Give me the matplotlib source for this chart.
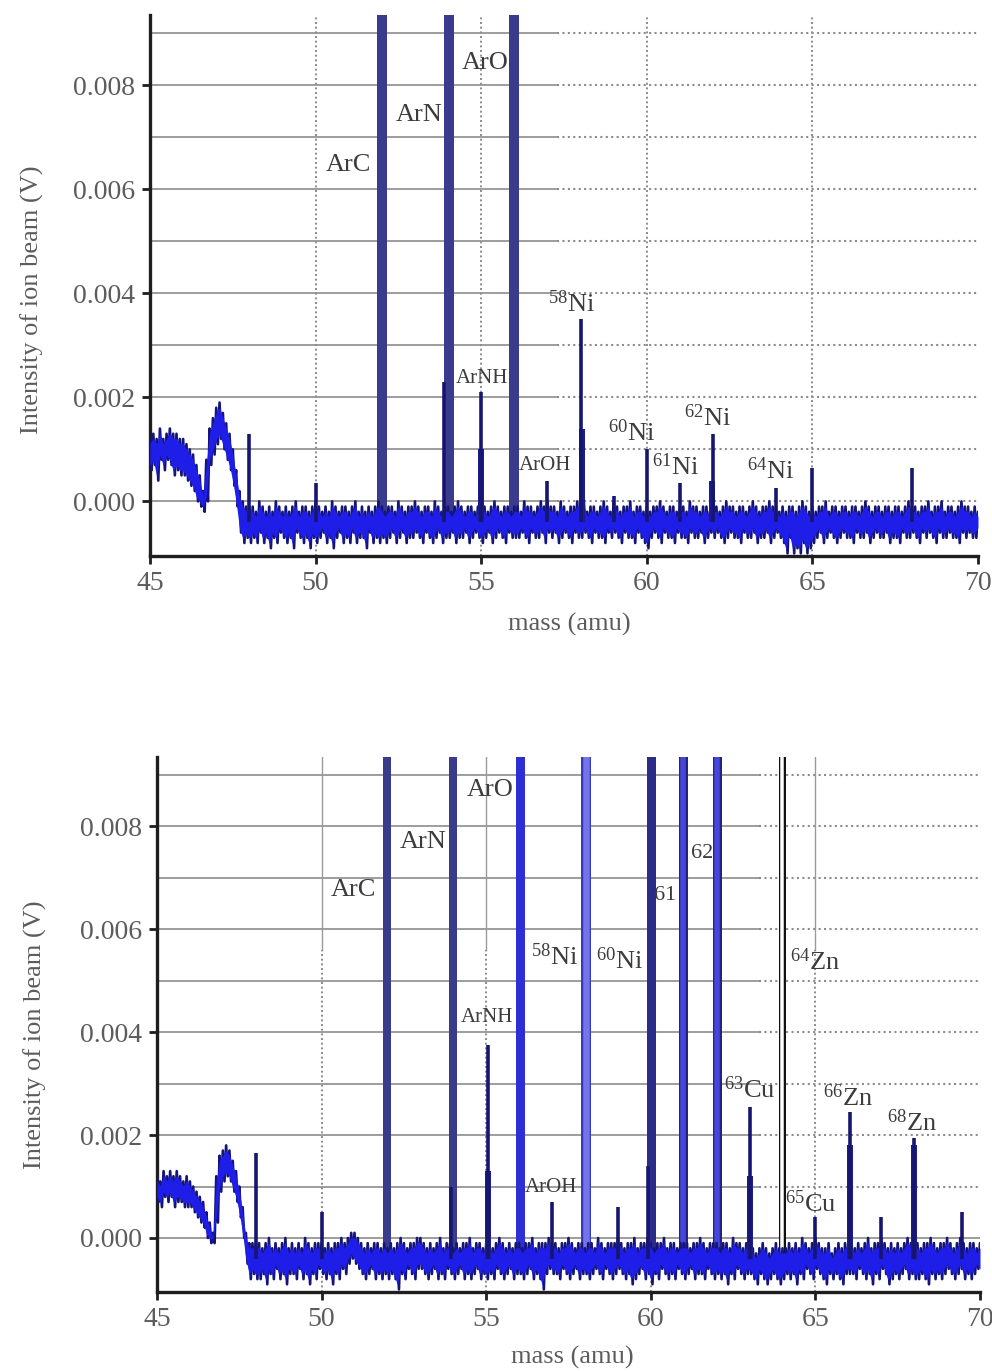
import numpy as np
import matplotlib
matplotlib.use("Agg")
import matplotlib.pyplot as plt

plt.rcParams["font.family"] = ["Liberation Serif", "DejaVu Serif"]
plt.rcParams["mathtext.fontset"] = "custom"
plt.rcParams["mathtext.rm"] = "Liberation Serif"
plt.rcParams["mathtext.it"] = "Liberation Serif:italic"

# sample positions of the recorded trace (amu)
mass_grid = np.round(np.arange(45.0, 70.05, 0.1), 1)

# noise band envelopes, units of 1e-4 V (upper / lower edge of the trace)
top_hi = [12, 13, 12, 14, 12, 13, 14, 13, 13, 12, 12, 11, 10, 9, 7, 5, 2, 8, 14, 16,
          18, 19, 17, 15, 13, 10, 6, 2, 0, -1, -1,
          -1, -2, 0, -1, -2, -1, -2, 0, -1, -2,
          -1, -2, -1, 0, -2, -1, -1, -2, -1, 0,
          -1, -2, -1, -2, 0, -1, -2, -1, -1, -2,
          -1, 0, -2, -1, -2, -1, -2, -1, 0, -1,
          -2, -1, -1, -2, 0, -1, -2, -1, -1, 0,
          -1, -2, -1, -1, -2, 0, -1, -2, -1, -1,
          -2, -1, 0, -1, -2, -1, -1, -2, -1, -1,
          -1, -2, -1, 0, -1, -2, -1, -1, -2, -1,
          -1, -2, 0, -1, -1, -2, -1, 0, -1, 0,
          -1, -1, -2, 0, -1, -2, -1, -1, 0, -1,
          0, -2, -1, -1, -2, -1, 0, -1, -2, 0,
          -1, -2, -1, -1, 0, -2, -1, -1, -2, -1,
          -2, -1, -1, 0, -1, -2, -1, -1, -2, -1,
          -1, -2, 0, -1, -1, -2, -1, -1, -2, -1,
          -1, -2, -1, 0, -1, -1, -2, -1, -1, -2,
          -1, 0, -1, -2, -1, -1, 0, -1, -1, -2,
          -1, -2, -1, -1, -2, -1, 0, -1, -2, -1,
          -2, -1, -1, 0, -2, -1, -1, -2, -1, -1,
          -2, -1, -1, -2, -1, 0, -1, -2, -1, -1,
          -2, -1, -1, -2, -1, -1, -2, -1, 0, -1,
          -1, -2, -1, -1, 0, -2, -1, -1, 0, -2,
          -1, -1, -2, -1, 0, -1, -1, -2, -1, -2]
top_lo = [6, 7, 4, 8, 6, 8, 7, 5, 6, 5, 5, 4, 3, 2, 0, -1, -2, 0, 7, 9,
          11, 12, 10, 8, 6, 3, -1, -6, -8, -7, -8,
          -7, -8, -6, -8, -7, -9, -7, -8, -6, -7,
          -8, -7, -9, -6, -7, -8, -7, -9, -7, -8,
          -7, -6, -8, -7, -9, -7, -6, -8, -7, -8,
          -6, -8, -7, -7, -9, -6, -8, -7, -8, -7,
          -8, -7, -6, -8, -7, -6, -8, -7, -7, -6,
          -7, -8, -6, -7, -8, -7, -6, -8, -7, -7,
          -6, -8, -7, -7, -6, -8, -7, -6, -7, -8,
          -7, -6, -8, -7, -6, -7, -8, -6, -7, -7,
          -7, -6, -7, -8, -6, -7, -7, -6, -8, -6,
          -7, -6, -8, -7, -6, -7, -8, -6, -7, -7,
          -6, -7, -8, -6, -7, -7, -8, -6, -7, -6,
          -7, -8, -6, -7, -7, -8, -6, -7, -8, -9,
          -7, -6, -7, -8, -6, -7, -7, -8, -6, -7,
          -7, -8, -6, -7, -7, -6, -8, -7, -6, -7,
          -6, -7, -8, -7, -6, -7, -7, -8, -6, -7,
          -7, -6, -8, -7, -7, -6, -8, -7, -6, -7,
          -8, -10, -7, -10, -9, -10, -8, -10, -9, -8,
          -7, -6, -8, -7, -6, -7, -8, -7, -6, -7,
          -7, -8, -6, -7, -7, -6, -8, -7, -6, -7,
          -7, -6, -8, -7, -7, -8, -6, -7, -7, -6,
          -7, -8, -6, -7, -6, -7, -8, -6, -7, -7,
          -6, -7, -7, -8, -6, -7, -6, -7, -7, -6]

bot_hi = [12, 11, 13, 12, 13, 12, 13, 12, 11, 12, 11, 10, 9, 8, 7, 5, 3, 1, 12, 16,
          17, 18, 17, 15, 13, 10, 6, 1, -1, -1, -1,
          -1, -2, -1, 0, -2, -1, -2, -1, 0, -2,
          -1, -2, -1, -2, 0, -1, -2, -1, -1, -1,
          -2, -1, -2, -1, -1, 0, -1, 0, 1, 1,
          0, -1, -2, -1, -2, -1, -1, -2, -1, -2,
          -1, -2, -1, 0, -1, -2, -1, -1, 0, 0,
          -1, -2, -1, -2, -1, 0, -2, -1, -1, -2,
          -1, -2, -1, -1, 0, -2, -1, -1, -2, -1,
          -1, -2, -1, 0, -1, -2, -1, -2, -1, -1,
          -2, -1, -1, 0, -2, -1, -1, -1, 0, -1,
          -1, -2, -1, -1, 0, -1, -2, -1, -1, -2,
          -1, -1, -2, 0, -1, -2, -1, -1, -1, 0,
          -1, -2, -1, -1, 0, -2, -1, -1, 0, -1,
          -2, -1, -1, 0, -2, -1, -1, -2, -1, -1,
          -1, -2, -1, -1, 0, -1, -2, -1, -1, -1,
          -2, -1, -1, -2, 0, -1, -1, -2, -1, -1,
          -2, -3, -2, -1, -2, -3, -2, -1, -2, -2,
          -2, -1, -2, -1, -2, 0, -1, -2, -1, 0,
          -1, -2, -2, -1, -3, -2, -1, -2, -1, -1,
          -1, -2, -1, -2, -1, 0, -2, -1, -1, 0,
          -1, -2, -1, -2, -1, -2, -1, 0, -1, -1,
          -1, -2, -1, -1, 0, -1, -2, -1, -1, 0,
          -1, -2, -1, 0, -1, -2, -1, -1, -2, -1]
bot_lo = [7, 6, 8, 7, 8, 6, 7, 7, 6, 6, 6, 5, 4, 3, 2, 0, -1, -1, 3, 9,
          11, 12, 11, 9, 7, 4, 0, -5, -8, -7, -8,
          -8, -7, -9, -7, -8, -6, -8, -7, -9, -7,
          -7, -8, -6, -8, -7, -9, -7, -8, -6, -7,
          -8, -7, -9, -7, -8, -6, -7, -5, -4, -5,
          -6, -7, -8, -7, -6, -8, -7, -8, -7, -8,
          -7, -8, -10, -7, -8, -6, -7, -8, -6, -6,
          -7, -8, -7, -6, -8, -7, -8, -6, -7, -8,
          -7, -6, -8, -7, -8, -7, -6, -8, -7, -8,
          -7, -8, -6, -7, -8, -7, -6, -8, -7, -7,
          -8, -7, -6, -8, -7, -8, -10, -7, -6, -7,
          -7, -8, -6, -7, -8, -7, -6, -8, -7, -7,
          -8, -7, -6, -7, -8, -6, -7, -8, -7, -6,
          -7, -8, -7, -9, -8, -7, -6, -8, -7, -9,
          -7, -8, -6, -7, -8, -7, -8, -6, -7, -8,
          -7, -6, -8, -7, -7, -8, -6, -7, -8, -7,
          -8, -7, -9, -7, -8, -6, -7, -8, -7, -7,
          -8, -9, -7, -8, -9, -8, -7, -8, -9, -8,
          -7, -8, -7, -9, -7, -8, -6, -7, -8, -6,
          -7, -8, -9, -7, -8, -7, -8, -9, -7, -7,
          -7, -8, -6, -7, -8, -7, -9, -7, -8, -6,
          -7, -9, -8, -7, -8, -7, -6, -8, -7, -8,
          -8, -7, -8, -9, -7, -8, -7, -8, -7, -6,
          -7, -8, -7, -6, -8, -7, -8, -7, -6, -7]

# narrow peaks (mass, height in 1e-4 V)
top_peak_mass = [48.0, 50.0, 53.88, 55.0, 57.0, 58.0, 59.0, 60.0, 61.0, 62.0, 63.9, 65.0, 68.0]
top_peak_height = [13, 3.5, 23, 21, 4, 35, 1, 10, 3.5, 13, 2.5, 6.5, 6.5]
top_shoulder_mass = [55.0, 58.03, 61.97]
top_shoulder_height = [10, 14, 4]

bot_peak_mass = [48.0, 50.0, 53.93, 55.05, 57.0, 59.0, 59.93, 63.0, 65.0, 66.05, 67.0, 68.0, 69.45]
bot_peak_height = [16.5, 5, 10, 37.5, 7, 6, 14, 25.5, 4, 24.5, 4, 19.5, 5]
bot_shoulder_mass = [55.05, 63.0, 66.05, 68.0]
bot_shoulder_height = [13, 12, 18, 18]

# saturated peaks: mass, outer colour, inner colour, width in px
top_bar_mass = [52.0, 54.02, 55.98]
top_bar_color = ["#3b3b8e", "#3b3b8e", "#3b3b8e"]
top_bar_inner = [None, None, None]
top_bar_width = [10, 10, 10]

bot_bar_mass = [52.0, 54.0, 56.03, 58.03, 60.0, 60.97, 62.0, 64.0]
bot_bar_color = ["#3b3b8e", "#3b3b8e", "#2e2ed6", "#3a3ab8", "#2b2b88", "#24247a", "#24247a", "#111111"]
bot_bar_inner = [None, None, None, "#7474ec", None, "#4646dc", "#4646dc", "#ffffff"]
bot_bar_width = [8, 8, 9, 10, 9, 9, 9, 7]

# peak labels: text, mass, intensity (V), font size
top_labels = [("ArC", 50.98, 0.00646, 19), ("ArN", 53.12, 0.00742, 19), ("ArO", 55.11, 0.00842, 19),
              (r"$^{58}$Ni", 57.74, 0.00381, 19), ("ArNH", 55.02, 0.00237, 15),
              ("ArOH", 56.93, 0.00069, 15), (r"$^{60}$Ni", 59.55, 0.00133, 19),
              (r"$^{61}$Ni", 60.88, 0.00067, 19), (r"$^{62}$Ni", 61.85, 0.00160, 19),
              (r"$^{64}$Ni", 63.75, 0.00060, 19)]
bot_labels = [("ArC", 50.98, 0.00676, 19), ("ArN", 53.08, 0.00769, 19), ("ArO", 55.12, 0.00870, 19),
              ("62", 61.56, 0.00748, 16), ("61", 60.43, 0.00665, 16),
              (r"$^{58}$Ni", 57.09, 0.00547, 19), (r"$^{60}$Ni", 59.06, 0.00540, 19),
              (r"$^{64}$Zn", 64.99, 0.00537, 19), ("ArNH", 55.02, 0.00428, 15),
              (r"$^{63}$Cu", 63.01, 0.00289, 19), (r"$^{66}$Zn", 65.99, 0.00273, 19),
              (r"$^{68}$Zn", 67.93, 0.00225, 19), (r"$^{65}$Cu", 64.87, 0.00066, 19),
              ("ArOH", 56.97, 0.00099, 15)]

grid_levels = [0.0, 0.001, 0.002, 0.003, 0.004, 0.005, 0.006, 0.007, 0.008, 0.009]
y_ticks = [0.0, 0.002, 0.004, 0.006, 0.008]
x_ticks = [45, 50, 55, 60, 65, 70]

PX = 0.72  # points per pixel at 100 dpi


def draw_panel(ax, hi, lo, pk_m, pk_h, sh_m, sh_h, bar_m, bar_c, bar_in, bar_w,
               labels, split, vgrid_dotted_below):
    ax.set_xlim(45, 70)
    ax.set_ylim(-0.00105, 0.00935)
    ax.set_facecolor("white")

    # grid: solid on the left part, dotted on the right
    for lvl in grid_levels:
        cut = 70 if (vgrid_dotted_below is not None and lvl == 0.0) else split
        ax.hlines(lvl, 45, cut, color="#8c8c8c", lw=1.2, zorder=0)
        ax.hlines(lvl, cut, 70, color="#8c8c8c", lw=1.5, linestyles=(0, (1, 1.6)), zorder=0)
    for xv in [50, 55, 60, 65]:
        if vgrid_dotted_below is None:
            ax.axvline(xv, color="#8c8c8c", lw=1.4, ls=(0, (1, 1.4)), zorder=0)
        else:
            ax.axvline(xv, ymin=vgrid_dotted_below, color="#9a9a9a", lw=1.0, zorder=0)
            ax.axvline(xv, ymax=vgrid_dotted_below, color="#8c8c8c", lw=1.4,
                       ls=(0, (1, 1.4)), zorder=0)

    base = -0.0004
    hi_v = np.array(hi) * 1e-4
    lo_v = np.array(lo) * 1e-4

    # saturated peaks
    for m, c, inner, w in zip(bar_m, bar_c, bar_in, bar_w):
        ax.vlines(m, base, 0.02, color=c, lw=w * PX, zorder=2)
        if inner is not None:
            ax.vlines(m, base, 0.02, color=inner, lw=(w - 3.5) * PX, zorder=2)

    # noise trace: zigzag between the upper and lower edge, blue body inside
    zx = np.column_stack([mass_grid, mass_grid + 0.05]).ravel()
    zy = np.column_stack([hi_v, lo_v]).ravel()
    ax.plot(zx, zy, color="#14147a", lw=1.9, zorder=3)
    ax.fill_between(mass_grid, lo_v + 0.00009, hi_v - 0.00009, color="#1e1ee8",
                    lw=0, zorder=3)

    # resolved peaks
    ax.vlines(sh_m, base, np.array(sh_h) * 1e-4, color="#1d1d8a", lw=6 * PX, zorder=4)
    ax.vlines(pk_m, base, np.array(pk_h) * 1e-4, color="#161670", lw=3.6 * PX, zorder=4)

    for txt, m, v, fs in labels:
        ax.text(m, v, txt, fontsize=fs, color="#3c3c3c", ha="center", va="center", zorder=5)

    for s in ["top", "right"]:
        ax.spines[s].set_visible(False)
    for s in ["left", "bottom"]:
        ax.spines[s].set_linewidth(2.4)
        ax.spines[s].set_color("#1e1e1e")

    ax.set_xticks(x_ticks)
    ax.set_yticks(y_ticks)
    ax.set_yticklabels([f"{t:.3f}" for t in y_ticks])
    ax.tick_params(direction="out", length=6, width=2, color="#1e1e1e",
                   labelsize=20, labelcolor="#5c5c5c", pad=5)
    ax.set_xlabel("mass (amu)", fontsize=19, color="#5c5c5c")
    ax.set_ylabel("Intensity of ion beam (V)", fontsize=19, color="#5c5c5c")


fig = plt.figure(figsize=(9.92, 13.71), dpi=100)

ax1 = fig.add_axes([150 / 992, 1 - 556 / 1371, 828 / 992, 541 / 1371])
draw_panel(ax1, top_hi, top_lo, top_peak_mass, top_peak_height, top_shoulder_mass,
           top_shoulder_height, top_bar_mass, top_bar_color, top_bar_inner, top_bar_width,
           top_labels, 57.3, None)
ax1.yaxis.set_label_coords(-0.128, 0.473)
ax1.xaxis.set_label_coords(0.507, -0.106)

ax2 = fig.add_axes([157 / 992, 1 - 1292 / 1371, 823 / 992, 535 / 1371])
draw_panel(ax2, bot_hi, bot_lo, bot_peak_mass, bot_peak_height, bot_shoulder_mass,
           bot_shoulder_height, bot_bar_mass, bot_bar_color, bot_bar_inner, bot_bar_width,
           bot_labels, 63.3, 0.64)
ax2.yaxis.set_label_coords(-0.134, 0.48)
ax2.xaxis.set_label_coords(0.505, -0.101)

fig.savefig("out.png", dpi=100, facecolor="white")
